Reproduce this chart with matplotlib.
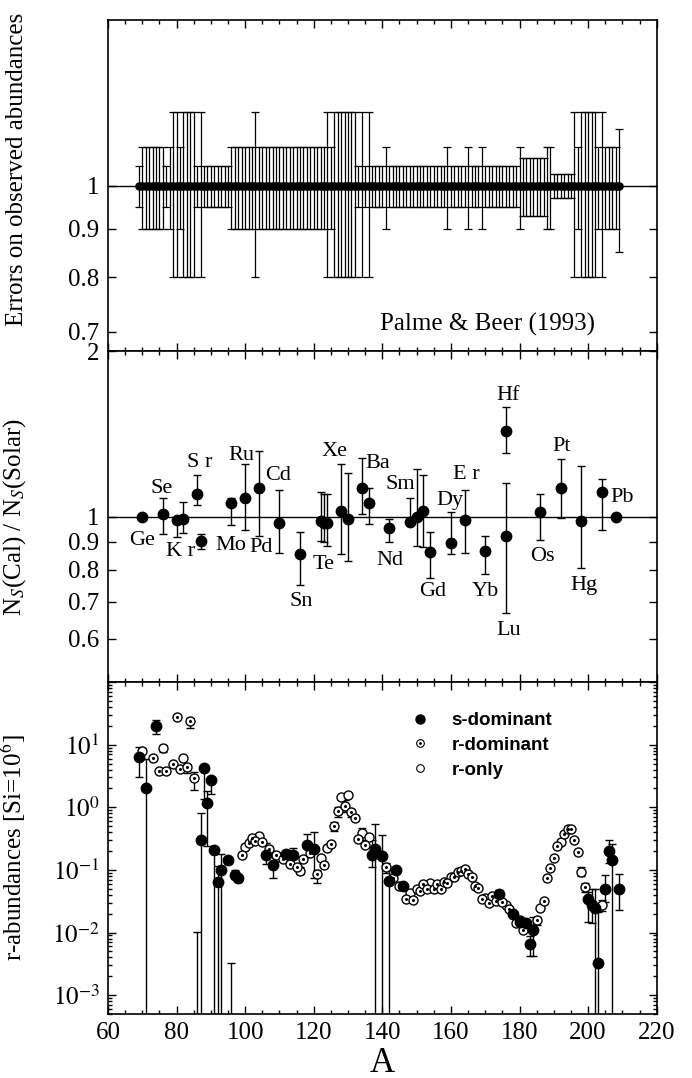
import numpy as np
import matplotlib
matplotlib.use('Agg')
import matplotlib.pyplot as plt
from matplotlib.ticker import MultipleLocator, FixedLocator, FixedFormatter, NullLocator, LogLocator, NullFormatter
from matplotlib.lines import Line2D
from matplotlib.legend_handler import HandlerTuple

plt.rcParams['font.family'] = ['Liberation Serif', 'DejaVu Serif']
plt.rcParams['mathtext.fontset'] = 'stix'

# ---- top panel: relative errors of the solar abundances (Palme & Beer 1993)
err_A = list(range(69, 210))
err_rel = [0.05,
           0.1, 0.1, 0.1, 0.1, 0.1, 0.1, 0.1,
           0.05, 0.1, 0.2, 0.2, 0.1, 0.2, 0.2, 0.2, 0.2, 0.05, 0.2,
           0.05, 0.05, 0.05, 0.05, 0.05, 0.05, 0.05, 0.05,
           0.1, 0.1, 0.1, 0.1, 0.1, 0.1, 0.1, 0.2,
           0.1, 0.1, 0.1, 0.1, 0.1, 0.1, 0.1, 0.1, 0.1, 0.1,
           0.1, 0.1, 0.1, 0.1, 0.1, 0.1, 0.1, 0.1, 0.1, 0.1,
           0.2, 0.1, 0.2, 0.2, 0.2, 0.2, 0.2, 0.2, 0.2,
           0.05, 0.2, 0.05, 0.2, 0.05, 0.05, 0.05, 0.05, 0.1,
           0.05, 0.05, 0.05, 0.05, 0.05, 0.05, 0.05, 0.05, 0.05,
           0.05, 0.05, 0.05, 0.05, 0.05, 0.05, 0.05, 0.05, 0.1,
           0.05, 0.05, 0.05, 0.05, 0.05, 0.1, 0.05, 0.05, 0.05, 0.1,
           0.05, 0.05, 0.05, 0.05, 0.05, 0.05, 0.05, 0.05, 0.05, 0.05,
           0.1, 0.07, 0.07, 0.07, 0.07, 0.07, 0.07, 0.07, 0.1, 0.1,
           0.03, 0.03, 0.03, 0.03, 0.03, 0.03,
           0.2, 0.1, 0.2, 0.2, 0.2, 0.2, 0.2, 0.1, 0.2,
           0.1, 0.1, 0.1, 0.1, 0.15]
err_center = [1.0] * len(err_A)

# ---- middle panel: s-only nuclei, N_s(calc)/N_s(solar)
mid_A = [70, 76, 80, 82, 86, 87, 96, 100, 104, 110, 116, 122, 123, 124, 128, 130,
         134, 136, 142, 148, 150, 152, 154, 160, 164, 170, 176, 176, 186, 192, 198, 204, 208]
mid_val = [1.0, 1.012, 0.986, 0.99, 1.10, 0.902, 1.06, 1.08, 1.13, 0.975, 0.855, 0.981, 0.975, 0.975, 1.024, 0.992,
           1.13, 1.06, 0.953, 0.978, 0.998, 1.024, 0.861, 0.894, 0.986, 0.867, 1.435, 0.923, 1.022, 1.13, 0.981, 1.111, 1.0]
mid_lo = [1.0, 0.93, 0.92, 0.935, 1.05, 0.875, 0.965, 0.946, 0.923, 0.86, 0.752, 0.904, 0.90, 0.885, 0.855, 0.832,
          1.012, 0.97, 0.90, 0.965, 0.885, 0.882, 0.775, 0.854, 0.86, 0.788, 1.308, 0.667, 0.906, 0.995, 0.806, 0.946, 1.0]
mid_hi = [1.0, 1.08, 0.986, 1.065, 1.19, 0.93, 1.08, 1.25, 1.32, 1.118, 0.938, 1.11, 1.10, 1.10, 1.25, 1.20,
          1.277, 1.126, 0.99, 1.08, 1.22, 1.19, 0.938, 1.02, 1.118, 0.923, 1.583, 1.15, 1.10, 1.276, 1.237, 1.169, 1.0]
mid_names = ['Ge', 'Se', 'K r', 'S r', 'Mo', 'Ru', 'Pd', 'Cd', 'Sn', 'Te', 'Xe', 'Ba', 'Nd', 'Sm',
             'Gd', 'Dy', 'E r', 'Yb', 'Hf', 'Lu', 'Os', 'Pt', 'Hg', 'Pb']
name_A = [70.0, 75.6, 81.2, 86.7, 95.8, 99.0, 104.7, 109.7, 116.4, 122.9, 126.2, 138.7, 142.3, 145.2,
          154.6, 159.6, 164.6, 169.9, 176.6, 176.9, 186.7, 192.2, 198.7, 209.8]
name_y = [0.906, 1.126, 0.863, 1.255, 0.888, 1.294, 0.878, 1.187, 0.702, 0.82, 1.313, 1.251, 0.831, 1.147,
          0.731, 1.07, 1.195, 0.731, 1.666, 0.621, 0.846, 1.341, 0.749, 1.085]

# ---- bottom panel: r-process residual abundances
s_A = [69, 71, 74, 86, 87, 88, 89, 90, 91, 92, 93, 95, 96, 97, 98, 106, 108, 112, 114, 118, 120,
       137, 138, 140, 142, 144, 146, 174, 178, 180, 182, 183, 184, 200, 201, 202, 203, 205, 206, 207, 209]
s_val = [6.3, 2.0, 19.6, 2e-4, 0.30, 4.2, 1.15, 2.7, 0.21, 0.063, 0.10, 0.145, 2e-4, 0.082, 0.074, 0.17, 0.12,
         0.18, 0.175, 0.25, 0.215, 0.17, 0.215, 0.165, 0.066, 0.10, 0.055, 0.041, 0.0196, 0.0148, 0.014,
         0.0065, 0.011, 0.034, 0.027, 0.025, 0.0033, 0.05, 0.197, 0.145, 0.05]
s_lo = [3.1, 1e-6, 14.8, 1e-6, 1e-6, 1.35, 0.24, 1.6, 1e-6, 1e-6, 1e-6, 0.125, 1e-6, 0.072, 0.065, 0.124, 0.073,
        0.155, 0.15, 0.16, 0.073, 0.11, 1e-6, 1e-6, 1e-6, 0.09, 0.05, 0.037, 0.017, 0.013, 0.0125,
        0.0042, 0.0042, 0.0145, 0.014, 1e-6, 1e-6, 0.031, 0.13, 1e-6, 0.023]
s_hi = [9.3, 5.9, 25.0, 0.0102, 0.8, 4.2, 1.8, 2.7, 0.21, 0.115, 0.18, 0.16, 0.0032, 0.10, 0.08, 0.27, 0.17,
        0.21, 0.22, 0.37, 0.40, 0.3, 0.55, 0.36, 0.10, 0.11, 0.06, 0.048, 0.022, 0.017, 0.016,
        0.0088, 0.018, 0.044, 0.05, 0.05, 0.021, 0.082, 0.30, 0.26, 0.085]

rd_A = [73, 75, 77, 79, 80, 81, 83, 84, 85, 99, 101, 102, 103, 105, 107, 109, 111, 113, 115, 117, 119,
        121, 123, 125, 126, 127, 129, 131, 132, 133, 135, 141, 143, 145, 147, 149, 151, 152, 153, 155,
        156, 157, 158, 159, 161, 162, 163, 164, 165, 166, 167, 168, 169, 171, 172, 173, 175, 177, 179,
        180, 181, 185, 187, 188, 189, 190, 191, 193, 194, 195, 196, 197, 199]
rd_val = [6.2, 3.8, 3.8, 4.9, 28.0, 4.1, 4.4, 24.0, 2.95, 0.17, 0.265, 0.32, 0.29, 0.275, 0.215, 0.175, 0.15,
          0.124, 0.11, 0.15, 0.186, 0.086, 0.119, 0.258, 0.5, 0.86, 1.06, 0.83, 0.665, 0.31, 0.249, 0.11,
          0.074, 0.056, 0.034, 0.033, 0.046, 0.06, 0.049, 0.049, 0.06, 0.049, 0.063, 0.062, 0.076, 0.092,
          0.095, 0.102, 0.086, 0.076, 0.056, 0.051, 0.034, 0.030, 0.038, 0.032, 0.031, 0.024, 0.014, 0.016,
          0.011, 0.016, 0.032, 0.073, 0.107, 0.154, 0.24, 0.38, 0.45, 0.45, 0.30, 0.195, 0.053]

ro_A = [70, 76, 82, 100, 104, 110, 116, 122, 124, 128, 130, 134, 136, 148, 150, 154, 160, 170, 176, 186,
        192, 198, 204]
ro_val = [7.8, 9.0, 6.2, 0.23, 0.35, 0.162, 0.097, 0.155, 0.223, 1.47, 1.58, 0.39, 0.335, 0.043, 0.049,
          0.061, 0.076, 0.036, 0.028, 0.025, 0.28, 0.093, 0.027]

# error bars on the open symbols
oe_A = [70, 76, 82, 83, 84, 85, 116, 121, 126, 127, 129, 130, 131, 134, 141, 150, 185, 192, 193, 197, 198, 199, 204]
oe_lo = [6.0, 7.5, 5.6, 3.5, 18.5, 1.9, 0.085, 0.062, 0.42, 0.7, 0.85, 1.45, 0.7, 0.3, 0.09, 0.045, 0.013,
         0.26, 0.36, 0.18, 0.08, 0.045, 0.022]
oe_hi = [8.9, 10.0, 6.6, 5.0, 27.0, 3.7, 0.11, 0.1, 0.58, 1.0, 1.3, 1.7, 0.95, 0.46, 0.13, 0.053, 0.018,
         0.30, 0.40, 0.21, 0.11, 0.062, 0.033]


def style_axis(ax):
    ax.set_xlim(60, 220)
    ax.xaxis.set_major_locator(MultipleLocator(20))
    ax.xaxis.set_minor_locator(MultipleLocator(5))
    ax.tick_params(which='both', direction='in', top=True, right=True, width=1)
    ax.tick_params(which='major', length=6, labelsize=18, pad=6)
    ax.tick_params(which='minor', length=3)
    for sp in ax.spines.values():
        sp.set_linewidth(1.2)


fig = plt.figure(figsize=(6.92, 10.78), dpi=100)
ax1 = fig.add_axes([0.156, 0.674, 0.793, 0.307])
ax2 = fig.add_axes([0.156, 0.3673, 0.793, 0.3067])
ax3 = fig.add_axes([0.156, 0.0594, 0.793, 0.3079])

# top
style_axis(ax1)
ax1.set_yscale('log')
ax1.set_ylim(2 / 3, 1.5)
ax1.axhline(1, color='k', lw=1)
yerr1 = np.array(err_rel)
ax1.errorbar(err_A, err_center, yerr=[yerr1, yerr1], fmt='o', color='k', ms=5.2, elinewidth=0.9,
             capsize=2.6, capthick=0.9)
ax1.yaxis.set_major_locator(FixedLocator([0.7, 0.8, 0.9, 1]))
ax1.yaxis.set_major_formatter(FixedFormatter(['0.7', '0.8', '0.9', '1']))
ax1.yaxis.set_minor_locator(NullLocator())
ax1.yaxis.set_minor_formatter(NullFormatter())
ax1.tick_params(axis='x', labelbottom=False)
ax1.text(0.887, 0.063, 'Palme & Beer (1993)', transform=ax1.transAxes, ha='right', va='baseline', fontsize=18)
ax1.set_ylabel('Errors on observed abundances', fontsize=18)
ax1.yaxis.set_label_coords(-0.145, 0.55)

# middle
style_axis(ax2)
ax2.set_yscale('log')
ax2.set_ylim(0.5, 2)
ax2.axhline(1, color='k', lw=1)
mv = np.array(mid_val)
ax2.errorbar(mid_A, mv, yerr=[mv - np.array(mid_lo), np.array(mid_hi) - mv], fmt='o', color='k', ms=7.5,
             elinewidth=1, capsize=3, capthick=1)
for name, xa, ya in zip(mid_names, name_A, name_y):
    ax2.text(xa, ya, name, ha='center', va='center', fontsize=16)
ax2.yaxis.set_major_locator(FixedLocator([0.6, 0.7, 0.8, 0.9, 1, 2]))
ax2.yaxis.set_major_formatter(FixedFormatter(['0.6', '0.7', '0.8', '0.9', '1', '2']))
ax2.yaxis.set_minor_locator(NullLocator())
ax2.yaxis.set_minor_formatter(NullFormatter())
ax2.tick_params(axis='x', labelbottom=False)
ax2.set_ylabel(r'N$_S$(Cal) / N$_S$(Solar)', fontsize=18)
ax2.yaxis.set_label_coords(-0.145, 0.5)

# bottom
style_axis(ax3)
ax3.set_yscale('log')
ax3.set_ylim(5e-4, 100)
sv = np.array(s_val)
ax3.errorbar(s_A, sv, yerr=[sv - np.array(s_lo), np.array(s_hi) - sv], fmt='none', ecolor='k',
             elinewidth=1, capsize=3, capthick=1, zorder=2)
open_lookup = dict(zip(rd_A + ro_A, rd_val + ro_val))
oe_val = np.array([open_lookup[a] for a in oe_A])
ax3.errorbar(oe_A, oe_val, yerr=[oe_val - np.array(oe_lo), np.array(oe_hi) - oe_val], fmt='none', ecolor='k',
             elinewidth=1, capsize=3, capthick=1, zorder=2)
ax3.plot(ro_A, ro_val, 'o', mfc='white', mec='k', mew=1, ms=6.5, ls='', zorder=3)
ax3.plot(rd_A, rd_val, 'o', mfc='white', mec='k', mew=1, ms=6.5, ls='', zorder=3)
ax3.plot(rd_A, rd_val, 'o', color='k', ms=1.2, ls='', zorder=4)
ax3.plot(s_A, s_val, 'o', color='k', ms=7.5, ls='', zorder=5)
ax3.yaxis.set_major_locator(FixedLocator([1e-3, 1e-2, 1e-1, 1, 10, 100]))
ax3.yaxis.set_major_formatter(FixedFormatter([r'$10^{-3}$', r'$10^{-2}$', r'$10^{-1}$', r'$10^{0}$',
                                              r'$10^{1}$', '']))
ax3.yaxis.set_minor_locator(LogLocator(base=10, subs=np.arange(2, 10), numticks=20))
ax3.yaxis.set_minor_formatter(NullFormatter())
ax3.set_xlabel('A', fontsize=25, labelpad=2)
ax3.set_ylabel(r'r-abundances [Si=10$^6$]', fontsize=18)
ax3.yaxis.set_label_coords(-0.145, 0.5)

h_s = Line2D([], [], marker='o', ls='', color='k', ms=6.5)
h_rd = (Line2D([], [], marker='o', ls='', mfc='white', mec='k', mew=0.8, ms=5.5),
        Line2D([], [], marker='o', ls='', color='k', ms=1))
h_ro = Line2D([], [], marker='o', ls='', mfc='white', mec='k', mew=0.8, ms=5.5)
ax3.legend([h_s, h_rd, h_ro], ['s-dominant', 'r-dominant', 'r-only'],
           handler_map={tuple: HandlerTuple(ndivide=1)}, loc='upper left', bbox_to_anchor=(0.52, 0.96),
           frameon=False, prop={'family': 'Liberation Sans', 'weight': 'bold', 'size': 13.5},
           handlelength=1.0, handletextpad=1.2, labelspacing=0.4)

fig.savefig('out.png', dpi=100)
